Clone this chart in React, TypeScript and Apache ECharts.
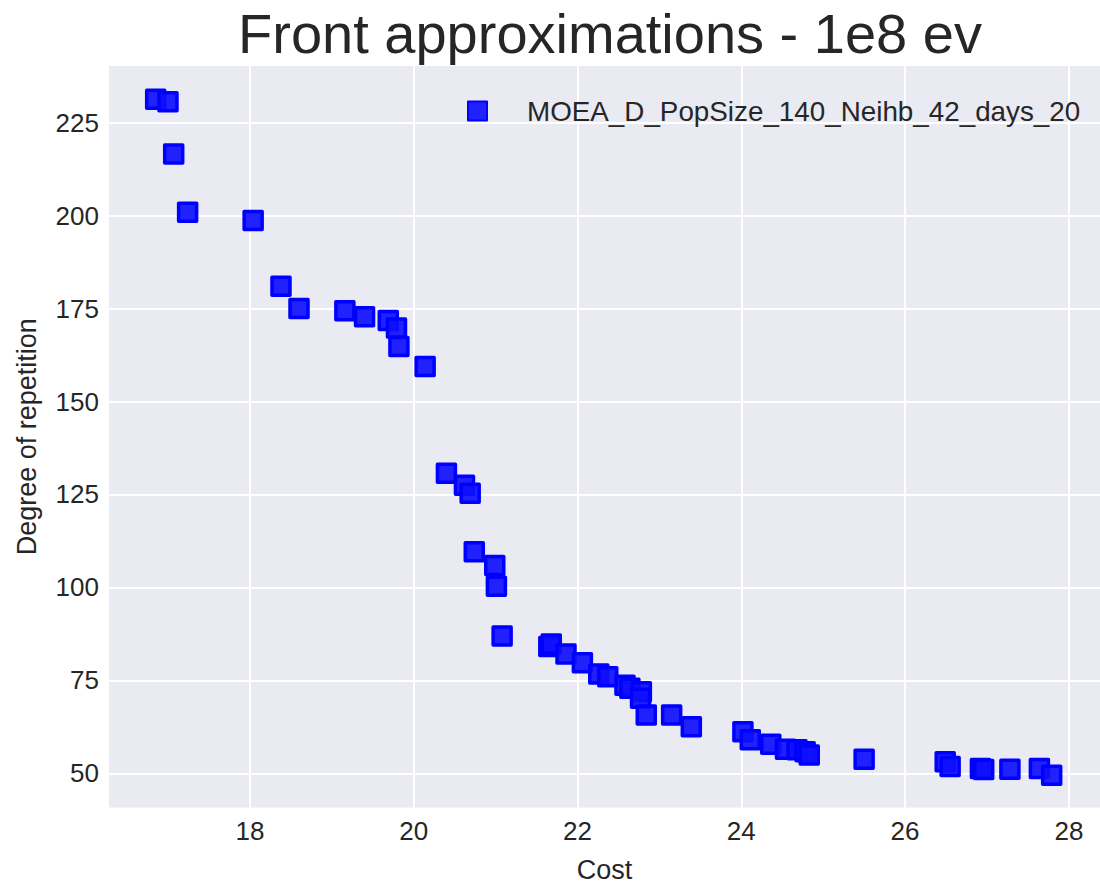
import React, { useEffect, useRef } from "react";
import * as echarts from "echarts";

const titleText = "Front approximations - 1e8 ev";
const seriesName = "MOEA_D_PopSize_140_Neihb_42_days_20";
const xAxisName = "Cost";
const yAxisName = "Degree of repetition";

const costValues = [
  16.85, 17.0, 17.07, 17.24, 18.04, 18.38, 18.6, 19.16, 19.4, 19.69, 19.79, 19.82,
  20.14, 20.4, 20.62, 20.69, 20.74, 20.99, 21.01, 21.08, 21.65, 21.68, 21.86, 22.06,
  22.26, 22.37, 22.58, 22.64, 22.78, 22.77, 22.84, 23.15, 23.39, 24.02, 24.11, 24.36,
  24.54, 24.68, 24.78, 24.83, 25.5, 26.49, 26.55, 26.92, 26.96, 27.28, 27.64, 27.79,
];
const repetitionValues = [
  231.3, 230.6, 216.6, 200.9, 198.7, 181.0, 175.0, 174.4, 172.8, 171.8, 169.8, 164.8,
  159.4, 130.7, 127.5, 125.3, 109.6, 105.9, 100.3, 86.9, 84.1, 84.8, 82.1, 79.7,
  76.7, 76.0, 73.7, 72.9, 71.9, 70.2, 65.7, 65.7, 62.5, 61.2, 59.0, 57.8,
  56.5, 56.3, 55.8, 54.9, 53.8, 53.1, 51.8, 51.3, 51.0, 51.1, 51.3, 49.5,
];
const xTicks = [18, 20, 22, 24, 26, 28];
const yTicks = [50, 75, 100, 125, 150, 175, 200, 225];

const FONT = "'Liberation Sans', Arial, sans-serif";
const TEXT_COLOR = "#262626";

export default function App() {
  const ref = useRef<HTMLDivElement>(null);

  useEffect(() => {
    if (!ref.current) return;
    const chart = echarts.init(ref.current, undefined, { renderer: "svg" });
    const points = costValues.map((c, i) => [c, repetitionValues[i]]);
    chart.setOption({
      animation: false,
      backgroundColor: "#ffffff",
      textStyle: { fontFamily: FONT },
      graphic: [
        {
          type: "text",
          x: 610,
          y: 33,
          style: {
            text: titleText,
            fontSize: 56,
            fontFamily: FONT,
            fill: TEXT_COLOR,
            align: "center",
            verticalAlign: "middle",
          },
        },
      ],
      legend: {
        data: [{ name: seriesName, icon: "rect" }],
        left: 462,
        top: 92,
        itemWidth: 19,
        itemHeight: 19,
        textStyle: {
          fontSize: 27.8,
          color: TEXT_COLOR,
          fontFamily: FONT,
          padding: [0, 0, 0, 35],
        },
      },
      grid: {
        left: 109,
        right: -9,
        top: 66,
        height: 741.5,
        show: true,
        backgroundColor: "#EAEAF2",
        borderWidth: 0,
        containLabel: false,
      },
      xAxis: {
        type: "value",
        min: 16.28,
        max: 28.38,
        name: xAxisName,
        nameLocation: "middle",
        nameGap: 49,
        nameTextStyle: { fontSize: 27, color: TEXT_COLOR, fontFamily: FONT },
        axisLine: { show: false },
        axisTick: { show: false, customValues: xTicks },
        axisLabel: {
          customValues: xTicks,
          fontSize: 26,
          color: TEXT_COLOR,
          fontFamily: FONT,
          margin: 10,
        },
        splitLine: { show: true, lineStyle: { color: "#ffffff", width: 2 } },
      },
      yAxis: {
        type: "value",
        min: 40.8,
        max: 240.24,
        name: yAxisName,
        nameLocation: "middle",
        nameGap: 69,
        nameRotate: 90,
        nameTextStyle: { fontSize: 27, color: TEXT_COLOR, fontFamily: FONT },
        axisLine: { show: false },
        axisTick: { show: false, customValues: yTicks },
        axisLabel: {
          customValues: yTicks,
          fontSize: 26,
          color: TEXT_COLOR,
          fontFamily: FONT,
          margin: 10,
        },
        splitLine: { show: true, lineStyle: { color: "#ffffff", width: 2 } },
      },
      series: [
        {
          name: seriesName,
          type: "scatter",
          data: points,
          symbol: "rect",
          symbolSize: 18,
          itemStyle: {
            color: "rgba(15,15,255,0.92)",
            borderColor: "#0000ff",
            borderWidth: 3.5,
            borderJoin: "round",
            opacity: 1,
          },
        },
      ],
    });
    return () => chart.dispose();
  }, []);

  return <div ref={ref} style={{ width: 1100, height: 890, position: "absolute", left: 0, top: 0 }} />;
}
